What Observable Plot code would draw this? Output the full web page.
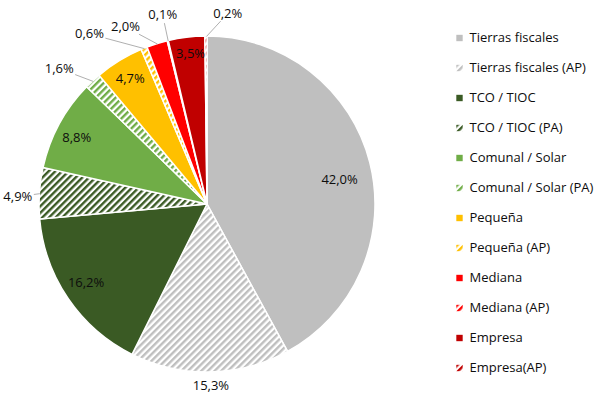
<!DOCTYPE html>
<html>
<head>
<meta charset="utf-8">
<script src="https://cdn.jsdelivr.net/npm/d3@7"></script>
<script src="https://cdn.jsdelivr.net/npm/@observablehq/plot@0.6"></script>
<style>
  html, body { margin: 0; padding: 0; background: #ffffff; }
  #chart svg { display: block; }
</style>
</head>
<body>
<div id="chart"></div>
<script>
// ---- Data ----
const categories = [
  "Tierras fiscales", "Tierras fiscales (AP)", "TCO / TIOC", "TCO / TIOC (PA)",
  "Comunal / Solar", "Comunal / Solar (PA)", "Pequeña", "Pequeña (AP)",
  "Mediana", "Mediana (AP)", "Empresa", "Empresa(AP)"
];
const values = [42.0, 15.3, 16.2, 4.9, 8.8, 1.6, 4.7, 0.6, 2.0, 0.1, 3.5, 0.2];
const valueLabels = ["42,0%", "15,3%", "16,2%", "4,9%", "8,8%", "1,6%", "4,7%", "0,6%", "2,0%", "0,1%", "3,5%", "0,2%"];

// ---- Styles ----
const baseColors = ["#bfbfbf", "#bfbfbf", "#3a5a24", "#3a5a24", "#70ad47", "#70ad47",
                    "#ffc000", "#ffc000", "#ff0000", "#ff0000", "#c00000", "#c00000"];
const hatched = [false, true, false, true, false, true, false, true, false, true, false, true];

// ---- Label layout (radius factor, angle nudge in degrees, leader line) ----
const labelRadius = [0.80, 1.077, 0.86, 1.13, 0.873, 1.197, 0.877, 1.235, 1.164, 1.158, 0.90, 1.143];
const labelNudge  = [3.7, 0.0, 1.5, -1.3, -1.4, -4.6, -0.1, -12.7, -7.5, 0.2, 0.6, 6.4];
const hasLeader   = [false, false, false, true, false, true, false, true, true, true, false, true];

// ---- Layout ----
const W = 615, H = 395;
const CX = 207, CY = 204, R = 168;
const legendX = 459, legendTop = 37.5, legendStep = 30;

const rows = categories.map((c, i) => ({
  category: c, value: values[i], label: valueLabels[i], i,
  fill: hatched[i] ? `url(#hatch-${i})` : baseColors[i]
}));

const arcs = d3.pie().sort(null).value(d => d.value)(rows);

const polar = (angle, rho) => [CX + rho * Math.sin(angle), CY - rho * Math.cos(angle)];

const labelRows = arcs.map((a, i) => {
  const mid = (a.startAngle + a.endAngle) / 2 + labelNudge[i] * Math.PI / 180;
  const [x, y] = polar(mid, R * labelRadius[i]);
  return {x, y, text: a.data.label, i};
});

const leaderRows = arcs.filter((a, i) => hasLeader[i]).map(a => {
  const i = a.data.i;
  const mid = (a.startAngle + a.endAngle) / 2;
  const [ex, ey] = polar(mid, R);
  const L = labelRows[i];
  const dx = ex - L.x, dy = ey - L.y, len = Math.hypot(dx, dy);
  const ux = dx / len, uy = dy / len;
  const t = Math.min(14.5 / Math.max(Math.abs(ux), 1e-6), 6.5 / Math.max(Math.abs(uy), 1e-6)) + 1.5;
  return {x1: ex, y1: ey, x2: L.x + ux * t, y2: L.y + uy * t};
});

const legendRows = rows.map((r, i) => ({...r, ly: legendTop + legendStep * i}));

// Custom mark: pie slices drawn with d3.arc, positioned through Plot's x/y scales
function pieMark(index, scales) {
  const x = scales.x, y = scales.y;
  const px = x(CX), py = y(CY), pr = x(CX + R) - x(CX);
  const g = d3.create("svg:g");
  const defs = g.append("defs");
  rows.forEach((r, i) => {
    if (!hatched[i]) return;
    const p = defs.append("pattern")
      .attr("id", `hatch-${i}`)
      .attr("patternUnits", "userSpaceOnUse")
      .attr("width", 4.7).attr("height", 4.7)
      .attr("patternTransform", "rotate(45)");
    p.append("rect").attr("width", 4.7).attr("height", 4.7).attr("fill", "#ffffff");
    p.append("rect").attr("x", 0).attr("width", 2.4).attr("height", 4.7).attr("fill", baseColors[i]);
  });
  const arc = d3.arc().innerRadius(0).outerRadius(pr);
  g.append("g")
    .attr("transform", `translate(${px},${py})`)
    .selectAll("path")
    .data(arcs)
    .join("path")
    .attr("d", arc)
    .attr("fill", d => d.data.fill)
    .attr("stroke", "#ffffff")
    .attr("stroke-width", 1.5)
    .attr("stroke-linejoin", "round");
  return g.node();
}

const chart = Plot.plot({
  width: W,
  height: H,
  margin: 0,
  style: {fontFamily: "'Open Sans', sans-serif", background: "#ffffff"},
  x: {domain: [0, W], range: [0, W], axis: null},
  y: {domain: [0, H], range: [0, H], axis: null},
  marks: [
    pieMark,
    Plot.link(leaderRows, {x1: "x1", y1: "y1", x2: "x2", y2: "y2", stroke: "#a6a6a6", strokeWidth: 0.9}),
    Plot.text(labelRows, {x: "x", y: "y", text: "text", fill: "#0d0d0d", fontSize: 13, textAnchor: "middle"}),
    ...legendRows.map(r => Plot.dot([r], {x: () => legendX, y: "ly", symbol: "square", r: 3.6, fill: r.fill, stroke: null})),
    Plot.text(legendRows, {x: () => legendX + 10, y: "ly", text: "category", textAnchor: "start", fill: "#0d0d0d", fontSize: 13})
  ]
});

document.getElementById("chart").appendChild(chart);
</script>
</body>
</html>
